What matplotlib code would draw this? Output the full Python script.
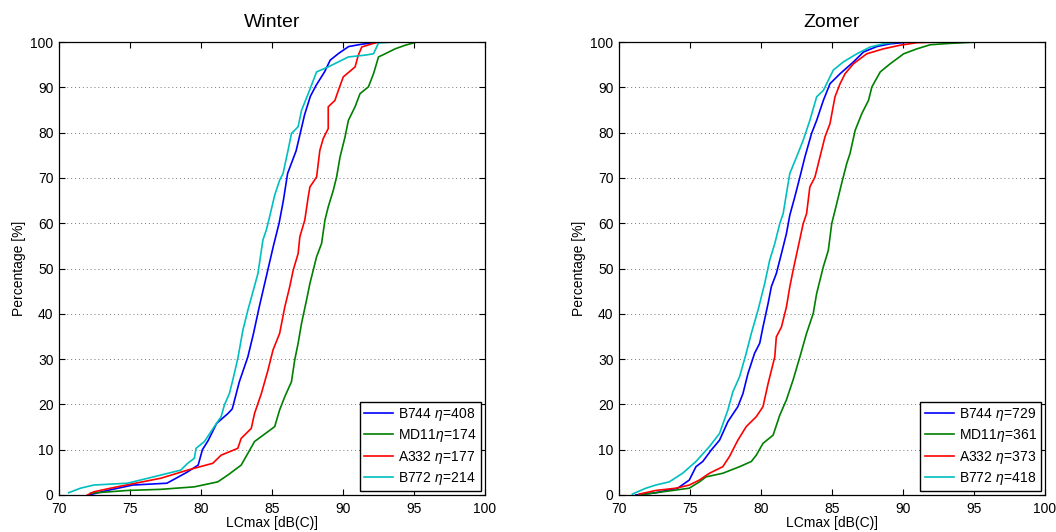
import matplotlib
matplotlib.use("Agg")
import matplotlib.pyplot as plt

plt.rcParams['font.family'] = ['Liberation Sans', 'DejaVu Sans']
plt.rcParams['mathtext.fontset'] = 'custom'
plt.rcParams['mathtext.it'] = 'Liberation Sans:italic'
plt.rcParams['mathtext.rm'] = 'Liberation Sans'

# ---------------- data ----------------
titles = ["Winter", "Zomer"]
series_names = ["B744", "MD11", "A332", "B772"]
colors = ["#0000ff", "#008000", "#ff0000", "#00bfbf"]
counts_winter = [408, 174, 177, 214]
counts_summer = [729, 361, 373, 418]

# Winter
w_b744_x = [72.1, 73.4, 75.2, 77.6, 79.0, 79.8, 80.1, 80.5, 81.1, 81.9, 82.2, 82.7, 83.3, 83.7, 84.1,
            84.7, 85.1, 85.5, 85.8, 86.1, 86.7, 87.0, 87.3, 87.7, 88.1, 88.7, 89.1, 89.7, 90.4, 91.3, 92.5]
w_b744_y = [0, 1, 2.2, 2.6, 5, 6.6, 10, 12, 15.8, 18, 19, 25, 30.5, 35.7, 41.5,
            49.6, 55, 60, 65, 71, 76, 80, 84, 88, 90.4, 93.4, 96, 97.5, 99, 99.5, 100]

w_md11_x = [72.22, 74.81, 77.17, 79.53, 81.18, 81.89, 82.83, 83.30, 83.77, 84.72, 85.19, 85.54, 85.90,
            86.37, 86.60, 86.84, 87.08, 87.43, 87.67, 88.14, 88.49, 88.73, 88.96, 89.32, 89.55, 89.79,
            90.14, 90.38, 90.85, 91.20, 91.79, 92.15, 92.50, 92.97, 93.68, 94.39, 95.21]
w_md11_y = [0.4, 1.0, 1.25, 1.8, 2.9, 4.4, 6.6, 9.2, 11.8, 14.0, 15.1, 18.8, 21.7,
            25.0, 29.8, 33.5, 37.9, 43.0, 46.7, 52.6, 55.5, 60.7, 63.6, 67.3, 70.2, 74.6,
            79.0, 82.7, 85.7, 88.6, 90.1, 93.0, 96.7, 97.4, 98.5, 99.3, 100]

w_a332_x = [72.0, 72.45, 73.63, 75.05, 77.17, 79.06, 80.00, 80.83, 81.42, 82.59, 82.83, 83.54, 83.77,
            84.25, 84.72, 85.07, 85.54, 85.90, 86.25, 86.49, 86.84, 86.96, 87.31, 87.55, 87.67, 88.14,
            88.37, 88.61, 88.96, 88.96, 89.43, 89.67, 90.02, 90.85, 91.08, 91.32, 92.26, 92.50]
w_a332_y = [0, 0.7, 1.5, 2.4, 3.7, 5.5, 6.3, 7.0, 8.8, 10.3, 12.5, 14.7, 18.0,
            22.4, 27.6, 32.0, 35.7, 41.5, 46.0, 49.6, 53.3, 57.0, 60.7, 65.8, 68.0, 70.2,
            76.1, 78.7, 80.9, 85.7, 87.1, 89.3, 92.3, 94.5, 97.1, 98.9, 99.8, 100]

w_b772_x = [70.68, 71.51, 72.45, 74.81, 77.17, 78.58, 79.06, 79.53, 79.65, 80.24, 80.94, 81.42, 81.65,
            82.00, 82.24, 82.59, 82.95, 83.30, 83.66, 84.01, 84.36, 84.60, 84.83, 85.19, 85.54, 85.78,
            86.13, 86.37, 86.84, 87.08, 87.55, 88.14, 88.96, 90.38, 91.56, 92.15, 92.50, 93.68]
w_b772_y = [0.5, 1.5, 2.2, 2.6, 4.4, 5.5, 7.0, 8.1, 10.3, 11.8, 15.1, 17.3, 19.9,
            22.4, 25.4, 30.1, 36.4, 40.8, 44.9, 48.9, 56.3, 58.5, 61.4, 66.2, 69.5, 71.0,
            76.1, 79.8, 81.3, 84.9, 88.6, 93.4, 94.5, 96.7, 97.1, 97.4, 99.8, 100]

# Zomer
s_b744_x = [71.18, 72.59, 74.13, 74.95, 75.42, 75.90, 76.49, 77.08, 77.67, 78.37, 78.73, 79.08, 79.55,
            79.91, 80.14, 80.50, 80.73, 81.08, 81.44, 81.79, 82.03, 82.38, 82.74, 83.09, 83.56, 83.92,
            84.39, 84.86, 85.57, 86.51, 87.22, 88.16, 89.10, 90.52]
s_b744_y = [0, 0.5, 1.5, 3.3, 6.25, 7.4, 9.9, 12.1, 16.2, 19.5, 22.4, 26.8, 31.3,
            33.5, 37.1, 42.3, 46.0, 48.9, 53.3, 57.7, 61.8, 65.8, 70.2, 74.6, 79.8, 82.7,
            87.1, 90.8, 93.0, 95.6, 97.8, 99.0, 99.6, 100]

s_md11_x = [71.42, 72.59, 73.77, 74.95, 75.66, 76.13, 77.31, 78.49, 79.32, 79.67, 80.14, 80.85, 81.32,
            81.79, 82.26, 82.74, 83.21, 83.68, 83.92, 84.39, 84.74, 84.98, 85.33, 85.68, 86.04, 86.27,
            86.63, 87.10, 87.57, 87.81, 88.40, 89.10, 90.05, 90.99, 91.93, 93.35, 95.24]
s_md11_y = [0, 0.5, 1.0, 1.5, 2.9, 4.0, 4.8, 6.25, 7.4, 8.8, 11.4, 13.2, 17.6,
            21.0, 25.4, 30.5, 35.7, 40.1, 44.5, 50.4, 54.0, 59.9, 64.3, 68.8, 73.2, 75.4,
            80.5, 84.2, 87.1, 90.1, 93.4, 95.2, 97.4, 98.5, 99.4, 99.7, 100]

s_a332_x = [71.42, 72.59, 74.01, 74.95, 75.66, 76.37, 77.31, 77.78, 78.37, 78.96, 79.67, 80.14, 80.50,
            80.97, 81.08, 81.44, 81.79, 82.03, 82.26, 82.62, 82.97, 83.21, 83.44, 83.80, 84.15, 84.50,
            84.86, 85.21, 85.57, 85.92, 86.51, 87.45, 88.63, 89.81, 90.99, 92.64]
s_a332_y = [0.2, 1.0, 1.5, 2.2, 3.3, 4.8, 6.25, 8.5, 12.1, 15.1, 17.3, 19.5, 24.6,
            30.5, 34.9, 37.1, 41.5, 46.0, 49.6, 54.8, 59.9, 62.1, 68.0, 70.2, 74.6, 79.0,
            82.0, 87.9, 90.8, 93.0, 95.2, 97.4, 98.5, 99.3, 99.85, 100]

s_b772_x = [70.94, 71.89, 72.59, 73.54, 74.48, 75.42, 76.37, 77.08, 77.67, 78.02, 78.49, 78.96, 79.32,
            79.79, 80.26, 80.61, 80.97, 81.32, 81.56, 81.79, 82.03, 82.50, 82.97, 83.44, 83.92, 84.39,
            85.09, 85.80, 86.75, 87.69, 88.63, 89.58]
s_b772_y = [0.2, 1.5, 2.2, 2.9, 4.8, 7.4, 10.7, 13.6, 18.8, 22.8, 26.1, 31.3, 35.7,
            40.8, 46.7, 51.8, 55.5, 59.9, 62.1, 66.5, 71.0, 74.6, 78.3, 82.7, 87.9, 89.3,
            93.8, 95.6, 97.4, 98.9, 99.6, 100]

winter_x = [w_b744_x, w_md11_x, w_a332_x, w_b772_x]
winter_y = [w_b744_y, w_md11_y, w_a332_y, w_b772_y]
summer_x = [s_b744_x, s_md11_x, s_a332_x, s_b772_x]
summer_y = [s_b744_y, s_md11_y, s_a332_y, s_b772_y]

x_ticks = [70, 75, 80, 85, 90, 95, 100]
y_ticks = [0, 10, 20, 30, 40, 50, 60, 70, 80, 90, 100]
xlabel = "LCmax [dB(C)]"
ylabel = "Percentage [%]"

# ---------------- figure ----------------
fig = plt.figure(figsize=(10.56, 5.32), dpi=100)
axes_rects = [[59 / 1056, 37 / 532, 426 / 1056, 453 / 532],
              [619 / 1056, 37 / 532, 426 / 1056, 453 / 532]]
panels = [(winter_x, winter_y, counts_winter), (summer_x, summer_y, counts_summer)]

for rect, title, (xs, ys, counts) in zip(axes_rects, titles, panels):
    ax = fig.add_axes(rect)
    for name, col, x, y, n in zip(series_names, colors, xs, ys, counts):
        sep = "" if name == "MD11" else " "
        lbl = name + sep + r"$\eta\!\mathit{=}\!\mathit{" + str(n) + "}$"
        ax.plot(x, y, color=col, lw=1.2, label=lbl)
    ax.set_xlim(70, 100)
    ax.set_ylim(0, 100)
    ax.set_xticks(x_ticks)
    ax.set_yticks(y_ticks)
    ax.tick_params(direction='in', top=True, right=True, length=4, width=0.8,
                   labelsize=10)
    ax.tick_params(axis='x', pad=5)
    ax.tick_params(axis='y', pad=4)
    ax.yaxis.grid(True, linestyle=(0, (1, 3)), color='#777777', lw=0.7)
    for s in ax.spines.values():
        s.set_linewidth(0.9)
    ax.set_title(title, fontsize=14, pad=11)
    ax.set_xlabel(xlabel, fontsize=10, labelpad=0)
    ax.set_ylabel(ylabel, fontsize=10, labelpad=3)
    leg = ax.legend(loc='lower right', fontsize=10, fancybox=False, framealpha=1,
                    edgecolor='black', handlelength=2.1, handletextpad=0.35,
                    borderpad=0.3, labelspacing=0.3, borderaxespad=0.3)
    leg.get_frame().set_linewidth(1.0)

fig.savefig("out.png", dpi=100)
